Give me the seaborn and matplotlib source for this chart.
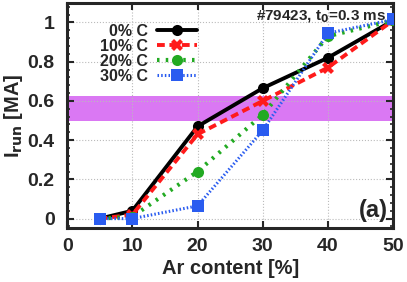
import numpy as np
import pandas as pd
import matplotlib
matplotlib.use("Agg")
import matplotlib.pyplot as plt
import seaborn as sns

# Ar content [%] and runaway current [MA] per carbon fraction
ar = [5, 10, 20, 30, 40, 50]
c0 = [0.0, 0.04, 0.47, 0.665, 0.82, 1.01]
c10 = [0.0, 0.02, 0.43, 0.60, 0.77, 1.01]
c20 = [0.0, 0.01, 0.24, 0.53, 0.93, 1.01]
c30 = [0.0, 0.0, 0.065, 0.45, 0.945, 1.015]
labels = ["0% C", "10% C", "20% C", "30% C"]
band = (0.50, 0.625)

sns.set_style("ticks")
plt.rcParams['font.family'] = ['Liberation Sans', 'DejaVu Sans']
plt.rcParams['font.weight'] = 'bold'

fig = plt.figure(figsize=(4.07, 2.82), dpi=100)
ax = fig.add_axes([0.165, 0.19, 0.801, 0.80])

ax.axhspan(band[0], band[1], color='#da78f3', lw=0, zorder=0.2)

styles = [
    dict(color='black', ls='-', marker='o', ms=8, lw=2.8),
    dict(color='#ff1a1a', ls=(0, (2, 1.2)), marker='X', ms=8, lw=2.8),
    dict(color='#22aa22', ls=(0, (0.6, 1.5)), marker='o', ms=8, lw=3.0),
    dict(color='#2a5cf0', ls=(0, (0.5, 0.7)), marker='s', ms=8, lw=2.2),
]
for ys, lab, st in zip([c0, c10, c20, c30], labels, styles):
    sns.lineplot(x=ar, y=ys, ax=ax, label=lab, color=st['color'],
                 linestyle=st['ls'], marker=st['marker'], markersize=st['ms'],
                 linewidth=st['lw'], markeredgewidth=0, zorder=3)

ax.set_xlim(0, 50)
ax.set_ylim(-0.05, 1.1)
ax.set_xticks([0, 10, 20, 30, 40, 50])
ax.set_yticks([0, 0.2, 0.4, 0.6, 0.8, 1])
ax.set_yticklabels(['0', '0.2', '0.4', '0.6', '0.8', '1'])
ax.set_yticks(np.arange(-0.04, 1.1, 0.04), minor=True)
ax.tick_params(direction='in', which='both', top=True, right=True,
               labelsize=14, width=1.5, length=5)
ax.tick_params(axis='y', pad=9)
ax.tick_params(axis='x', pad=7)
ax.tick_params(which='minor', length=2.5, width=1.2)
for s in ax.spines.values():
    s.set_linewidth(2.2)
ax.grid(True, color='#bbbbbb', ls=':', lw=0.8)
ax.set_axisbelow(True)

ax.set_xlabel("Ar content [%]", fontsize=14.5, fontweight='bold', labelpad=3)
ax.set_ylabel("I$_{\\mathbf{run}}$ [MA]", fontsize=14.5, fontweight='bold', labelpad=2)

leg = ax.legend(loc='upper left', bbox_to_anchor=(0.08, 0.935), frameon=False,
                markerfirst=False, fontsize=11.5, handlelength=2.5,
                labelspacing=0.0, handletextpad=0.6, borderaxespad=0)
for t in leg.get_texts():
    t.set_fontweight('bold')

ax.text(0.98, 0.975, "#79423, t$_\\mathbf{0}$=0.3 ms", transform=ax.transAxes,
        ha='right', va='top', fontsize=11, fontweight='bold', zorder=4)
ax.text(0.985, 0.03, "(a)", transform=ax.transAxes, ha='right', va='bottom',
        fontsize=17, fontweight='bold')

fig.savefig("out.png", dpi=100)
